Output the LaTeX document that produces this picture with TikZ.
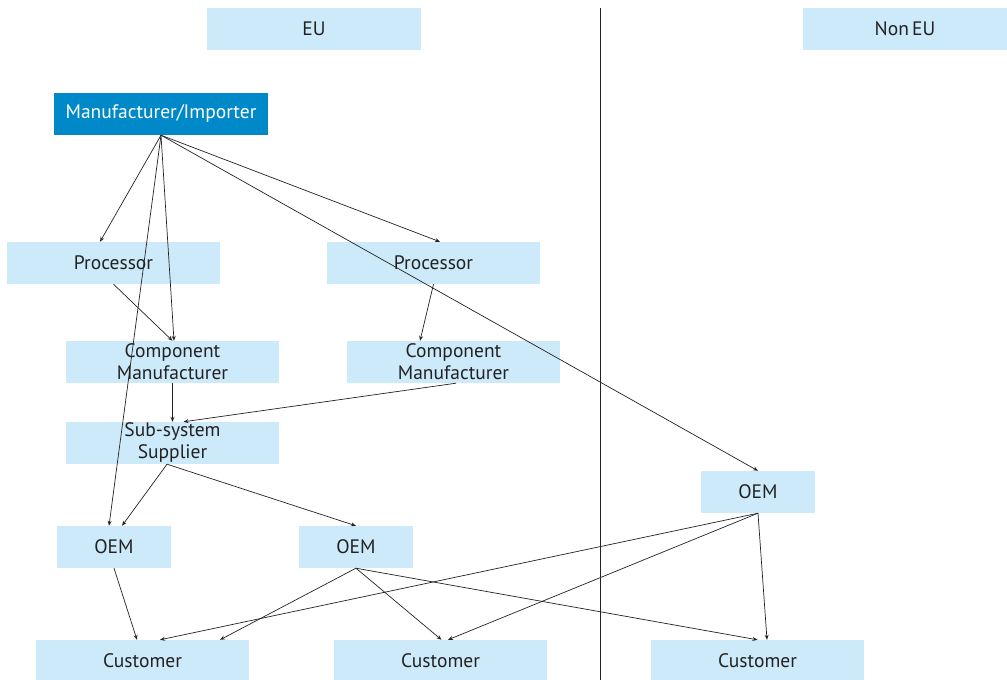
\documentclass[tikz,border=0pt]{standalone}
\usepackage{xcolor}
\usepackage{fontspec}
\setmainfont{PT Sans}
\usetikzlibrary{arrows.meta}

\definecolor{paleblue}{HTML}{CCEAFA}
\definecolor{deepblue}{HTML}{0089C9}
\definecolor{inkgray}{HTML}{222222}

\begin{document}
\begin{tikzpicture}[x=1pt, y=-1pt,
    box/.style={rectangle, fill=paleblue, text=inkgray, minimum width=213pt,
        minimum height=42pt, inner sep=0pt, align=center,
        font=\fontsize{19.5}{22}\selectfont},
    smallbox/.style={box, minimum width=114pt},
    link/.style={-{Stealth[length=5pt, width=4pt, open]}, draw=inkgray, line width=0.7pt}]
    \useasboundingbox (0,0) rectangle (1007,680);

    % region headers and divider
    \node[box, minimum width=214pt] (eu) at (314,29) {EU};
    \node[box, minimum width=204pt] (noneu) at (905,29) {Non\,EU};
    \coordinate (divtop) at (600,8);
    \coordinate (divbot) at (600,680);
    \draw[inkgray, line width=0.8pt] (divtop) -- (divbot);

    % nodes
    \node[box, fill=deepblue, text=white, minimum width=214pt] (mfr) at (161,114) {Manufacturer/Importer};
    \node[box] (procA) at (113.5,263) {Processor};
    \node[box] (procB) at (433.5,263) {Processor};
    \node[box] (compA) at (172.5,362) {Component\\Manufacturer};
    \node[box] (compB) at (453.5,362) {Component\\Manufacturer};
    \node[box] (subsys) at (172.5,443) {Sub-system\\Supplier};
    \node[smallbox] (oemA) at (114,547) {OEM};
    \node[smallbox] (oemB) at (356,547) {OEM};
    \node[smallbox] (oemC) at (758,492) {OEM};
    \node[box] (custA) at (142.5,661) {Customer};
    \node[box] (custB) at (440.5,661) {Customer};
    \node[box] (custC) at (757.5,661) {Customer};

    % flows
    \draw[link] (mfr.south) -- ([xshift=-13.5pt]procA.north);
    \draw[link] (mfr.south) -- ([xshift=6.5pt]procB.north);
    \draw[link] (mfr.south) -- ([xshift=1.5pt]compA.north);
    \draw[link] (mfr.south) -- ([xshift=-5pt]oemA.north);
    \draw[link] (mfr.south) -- (oemC.north);
    \draw[link] (procA.south) -- (compA.north);
    \draw[link] (procB.south) -- ([xshift=-33.5pt]compB.north);
    \draw[link] (compA.south) -- (subsys.north);
    \draw[link] ([xshift=2.5pt]compB.south) -- ([xshift=11pt]subsys.north);
    \draw[link] ([xshift=-5.5pt]subsys.south) -- ([xshift=8pt]oemA.north);
    \draw[link] ([xshift=-5.5pt]subsys.south) -- (oemB.north);
    \draw[link] (oemA.south) -- ([xshift=-5.5pt]custA.north);
    \draw[link] (oemB.south) -- ([xshift=77.5pt]custA.north);
    \draw[link] (oemB.south) -- ([xshift=1pt]custB.north);
    \draw[link] (oemB.south) -- (custC.north);
    \draw[link] (oemC.south) -- ([xshift=17.5pt]custA.north);
    \draw[link] (oemC.south) -- ([xshift=7.5pt]custB.north);
    \draw[link] (oemC.south) -- ([xshift=9.5pt]custC.north);
\end{tikzpicture}
\end{document}
